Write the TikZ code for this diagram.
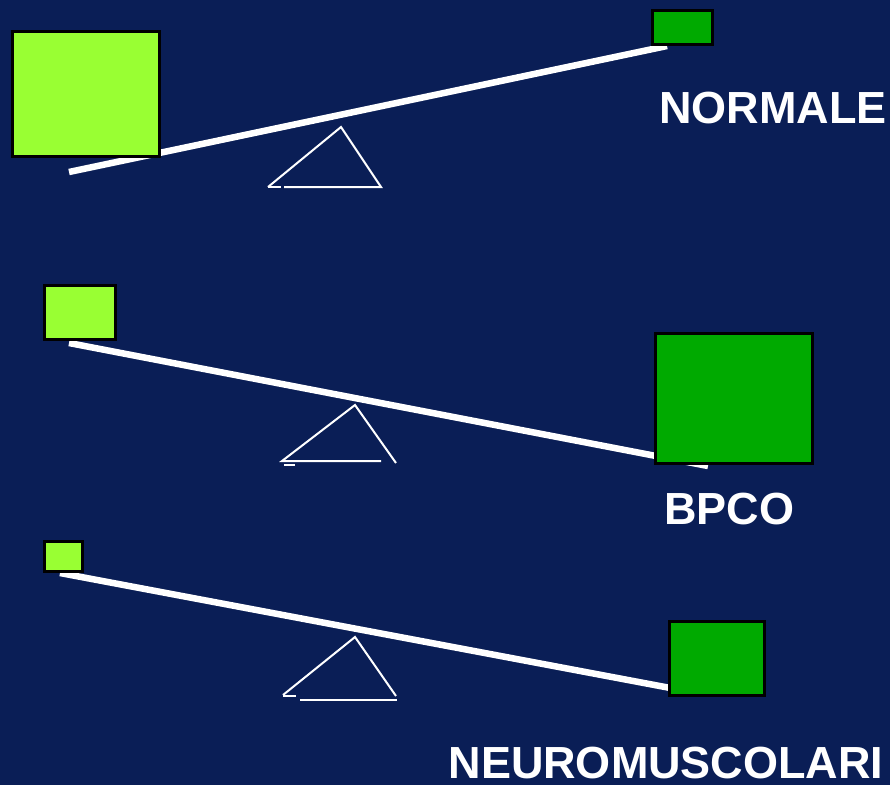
\documentclass[tikz,border=0pt]{standalone}
\usepackage{fontspec}
\setmainfont{Liberation Sans}
\definecolor{bgnavy}{RGB}{10,30,86}
\definecolor{lightg}{RGB}{153,255,51}
\definecolor{darkg}{RGB}{0,170,0}
\begin{document}
\begin{tikzpicture}[x=1pt,y=-1pt,
  box/.style={draw=black,line width=3pt,inner sep=0pt,minimum width=#1},
  beam/.style={draw=white,line width=6.5pt},
  fulcrum/.style={draw=white,line width=2pt},
  lbl/.style={text=white,font=\fontsize{45}{50}\selectfont\bfseries,inner sep=0pt}]
\fill[bgnavy] (0,0) rectangle (890,785);
\useasboundingbox (0,0) rectangle (890,785);
% ---- top: NORMALE
\coordinate (b1l) at (69,172);
\coordinate (b1r) at (667,46);
\draw[beam] (b1l) -- (b1r);
\node[box=147pt,minimum height=125pt,fill=lightg] (l1) at (85.5,93.5) {};
\node[box=60pt,minimum height=34pt,fill=darkg] (d1) at (682,27) {};
\draw[fulcrum] (268,187) -- (341,127) -- (381,187) -- (284,187);
\draw[fulcrum] (268,187) -- (281,187);
\node[lbl] (t1) at (773,108) {NORMALE};
% ---- middle: BPCO
\coordinate (b2l) at (69,343);
\coordinate (b2r) at (708,466);
\draw[beam] (b2l) -- (b2r);
\node[box=71pt,minimum height=54pt,fill=lightg] (l2) at (79.5,312) {};
\node[box=157pt,minimum height=130pt,fill=darkg] (d2) at (733.5,398) {};
\draw[fulcrum] (381,461) -- (282,461) -- (355,405) -- (396,463);
\draw[fulcrum] (284,465) -- (295,465);
\node[lbl] (t2) at (729,509) {BPCO};
% ---- bottom: NEUROMUSCOLARI
\coordinate (b3l) at (60,573);
\coordinate (b3r) at (697,693);
\draw[beam] (b3l) -- (b3r);
\node[box=38pt,minimum height=30pt,fill=lightg] (l3) at (63,556) {};
\node[box=95pt,minimum height=74pt,fill=darkg] (d3) at (716.5,658) {};
\draw[fulcrum] (283,695) -- (355,637) -- (396,696);
\draw[fulcrum] (283,696) -- (296,696);
\draw[fulcrum] (300,700) -- (397,700);
\node[lbl] (t3) at (666,763) {NEUROMUSCOLARI};
\end{tikzpicture}
\end{document}
